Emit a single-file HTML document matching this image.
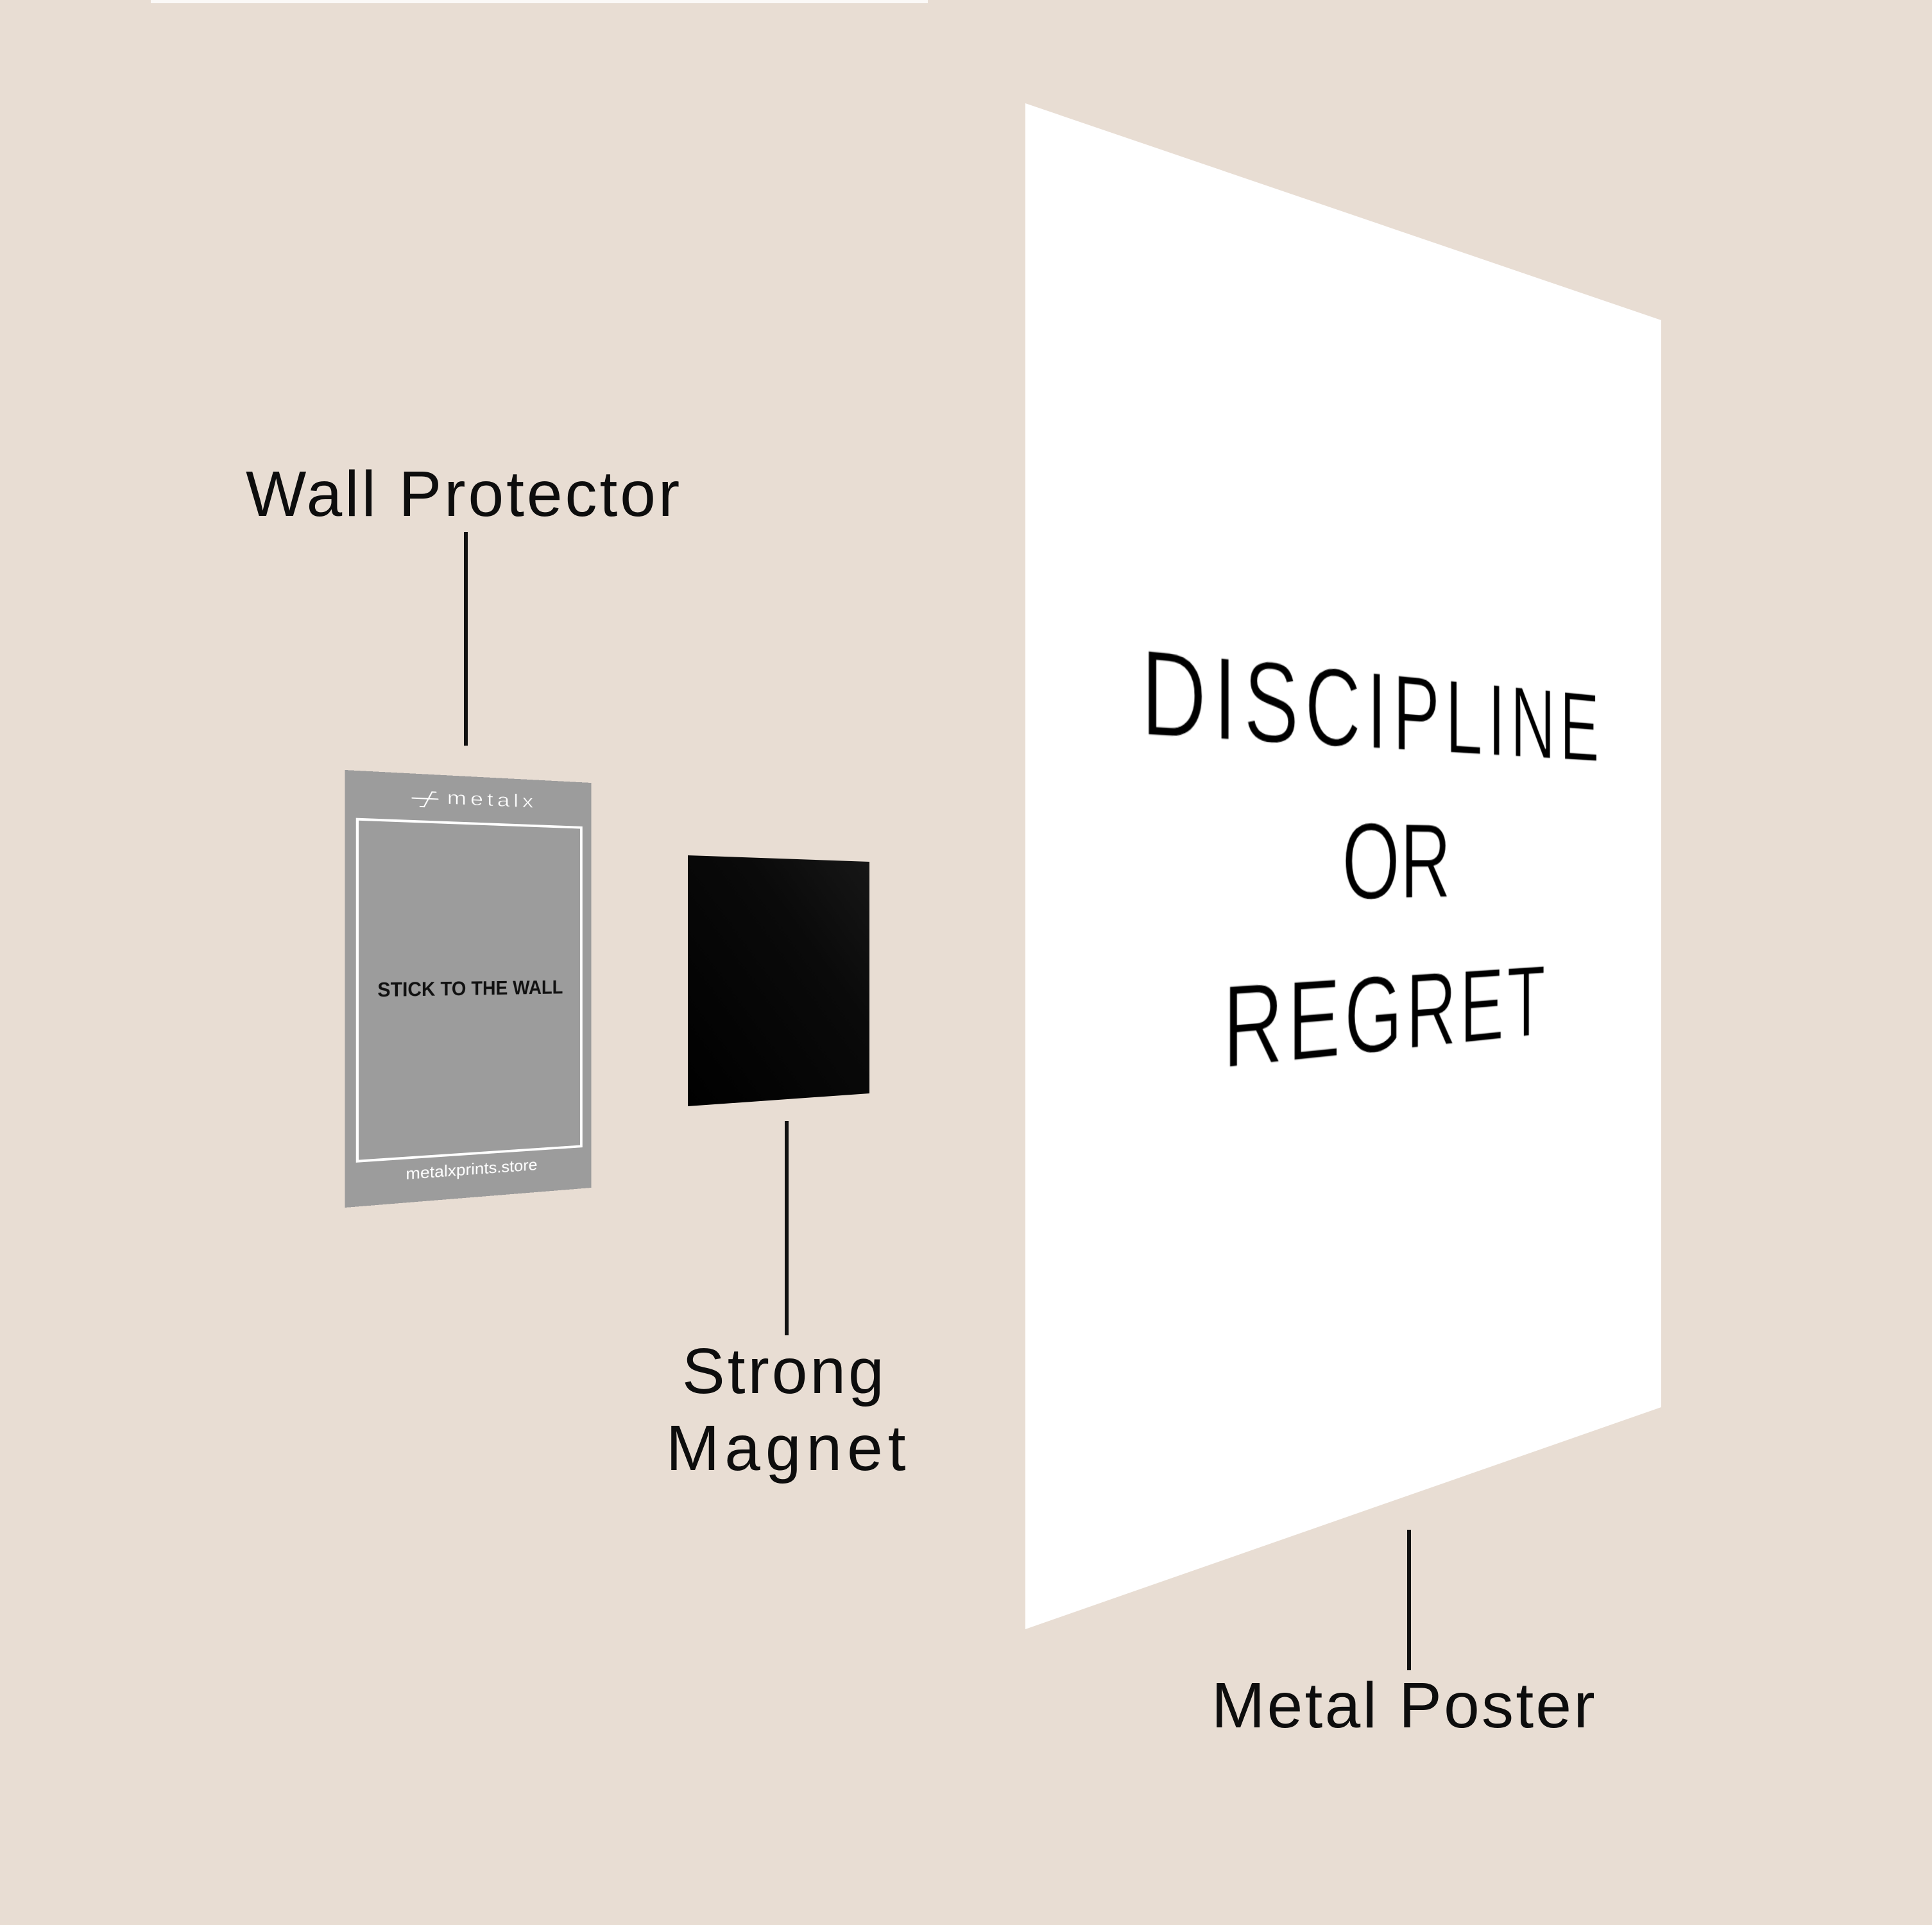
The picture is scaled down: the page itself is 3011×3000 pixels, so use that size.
<!DOCTYPE html>
<html>
<head>
<meta charset="utf-8">
<style>
html,body{margin:0;padding:0;}
body{width:3011px;height:3000px;background:#E8DDD3;position:relative;overflow:hidden;font-family:"Liberation Sans",Arial,sans-serif;}
svg.bg{position:absolute;left:0;top:0;}
.lbl{position:absolute;font-size:100px;line-height:100px;color:#0d0d0d;white-space:nowrap;letter-spacing:4px;}
.vl{position:absolute;background:#111;width:6px;}
#poster{position:absolute;left:0;top:0;width:1000px;height:1400px;transform-origin:0 0;
  transform:matrix3d(2.03638,0.53948,0,0.000403777, 0,1.698571,0,0, 0,0,1,0, 1598,161,0,1);}
.pl{position:absolute;left:0;width:1004px;text-align:center;font-size:118px;line-height:118px;color:#000;white-space:nowrap;-webkit-text-stroke:1.5px #fff;}
#panel{position:absolute;left:0;top:0;width:384px;height:682px;background:#9c9c9c;transform-origin:0 0;
  transform:matrix3d(1.19453,0.30888,0,0.000210479, 0,1,0,0, 0,0,1,0, 537.5,1200,0,1);}
#inner{position:absolute;left:16px;top:74px;width:353px;height:539px;box-sizing:border-box;border:4px solid #fff;}
#stick{position:absolute;left:0;top:327px;width:384px;text-align:center;font-weight:bold;font-size:32px;line-height:32px;color:#111;white-space:nowrap;transform:scaleX(0.9);transform-origin:192px 16px;}
#store{position:absolute;left:0;top:623px;width:384px;text-align:center;font-size:26px;line-height:26px;color:#fff;white-space:nowrap;}
#mx{position:absolute;left:152px;top:21.6px;font-size:30px;line-height:30px;color:#fff;letter-spacing:5px;white-space:nowrap;transform:scaleX(1.2);transform-origin:0 0;-webkit-text-stroke:0.6px #9c9c9c;}
#mark{position:absolute;left:98px;top:27px;}
</style>
</head>
<body>
<svg class="bg" width="3011" height="3000" viewBox="0 0 3011 3000">
  <defs>
    <linearGradient id="mg" x1="1" y1="0" x2="0" y2="1">
      <stop offset="0" stop-color="#171717"/>
      <stop offset="0.35" stop-color="#0a0a0a"/>
      <stop offset="1" stop-color="#000"/>
    </linearGradient>
  </defs>
  <rect x="235" y="0" width="1211" height="5" fill="#fbf9f7"/>
  <polygon points="1598,161 2589,499 2589,2193 1598,2539" fill="#ffffff"/>
  <polygon points="1072,1333 1355,1343 1355,1704 1072,1724" fill="url(#mg)"/>
</svg>

<div id="poster">
  <div class="pl" style="top:474px;letter-spacing:8.5px;padding-left:8.5px;width:995.5px;">DISCIPLINE</div>
  <div class="pl" style="top:638px;letter-spacing:0px;">OR</div>
  <div class="pl" style="top:805px;letter-spacing:5.6px;padding-left:5.6px;width:998.4px;">REGRET</div>
</div>

<div id="panel">
  <svg id="mark" width="42" height="27" viewBox="0 0 42 27">
    <g stroke="#fff" stroke-width="2" fill="none" stroke-linecap="round">
      <line x1="1" y1="12" x2="40" y2="12"/>
      <line x1="31" y1="1" x2="19" y2="25"/>
      <line x1="31" y1="1" x2="37" y2="1"/>
      <line x1="13" y1="25" x2="19" y2="25"/>
    </g>
  </svg>
  <div id="mx">metalx</div>
  <div id="inner"></div>
  <div id="stick">STICK TO THE WALL</div>
  <div id="store">metalxprints.store</div>
</div>

<div class="lbl" style="left:383px;top:720px;">Wall Protector</div>
<div class="vl" style="left:723px;top:829px;height:333px;"></div>

<div class="vl" style="left:1223px;top:1747px;height:334px;"></div>
<div class="lbl" style="left:1063px;top:2087px;">Strong</div>
<div class="lbl" style="left:1038px;top:2207px;letter-spacing:8px;">Magnet</div>

<div class="vl" style="left:2193px;top:2384px;height:219px;"></div>
<div class="lbl" style="left:1888px;top:2608px;letter-spacing:3.3px;">Metal Poster</div>
</body>
</html>
